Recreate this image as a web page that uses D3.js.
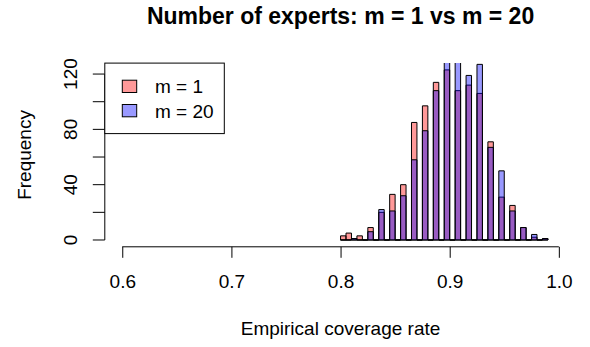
<!DOCTYPE html>
<html>
<head>
<meta charset="utf-8">
<script src="https://cdn.jsdelivr.net/npm/d3@7"></script>
<style>
  body { margin: 0; background: #fff; }
  svg { display: block; font-family: "Liberation Sans", Arial, sans-serif; }
</style>
</head>
<body>
<div id="content"></div>
<script>
// histogram breaks (bin i is (breaks[i], breaks[i+1]])
var breaks = [0.800, 0.805, 0.810, 0.815, 0.820, 0.825, 0.830, 0.835, 0.840, 0.845,
              0.850, 0.855, 0.860, 0.865, 0.870, 0.875, 0.880, 0.885, 0.890, 0.895,
              0.900, 0.905, 0.910, 0.915, 0.920, 0.925, 0.930, 0.935, 0.940, 0.945,
              0.950, 0.955, 0.960, 0.965, 0.970, 0.975, 0.980, 0.985, 0.990];

var countsM1 = [3, 5, 1, 3, 0, 9, 0, 20, 0, 33, 0, 40, 0, 85, 0, 97, 0, 114, 0, 123,
                0, 108, 0, 112, 0, 106, 0, 71, 0, 31, 0, 25, 0, 9, 0, 2, 0, 1];
var countsM20 = [0, 0, 1, 0, 0, 6, 0, 22, 0, 21, 0, 32, 0, 58, 0, 79, 0, 108, 0, 135,
                 0, 140, 0, 119, 0, 127, 0, 67, 0, 50, 0, 21, 0, 9, 0, 4, 0, 1];

var xTicks = [0.6, 0.7, 0.8, 0.9, 1.0];
var yTicks = [0, 20, 40, 60, 80, 100, 120];
var yLabels = [0, 40, 80, 120];
var legendLabels = ["m = 1", "m = 20"];

var width = 590, height = 347,
    plot = { left: 104.8, right: 576.3, top: 63.1, bottom: 246.8 },
    fill1 = "rgba(255,0,0,0.4)",
    fill20 = "rgba(0,0,255,0.4)";

var svg = d3.select("#content").append("svg")
    .attr("width", width)
    .attr("height", height);

// R style: xlim c(0.6,1), ylim c(0,max) both padded by 4%
var x = d3.scaleLinear().domain([0.584, 1.016]).range([plot.left, plot.right]);
var y = d3.scaleLinear().domain([-4.92, 127.92]).range([plot.bottom, plot.top]);

svg.append("clipPath").attr("id", "plotclip")
   .append("rect")
   .attr("x", plot.left).attr("y", plot.top)
   .attr("width", plot.right - plot.left)
   .attr("height", plot.bottom - plot.top);

function _drawHist(counts, fill) {
  var bins = counts.map(function (c, i) {
    return { x0: breaks[i], x1: breaks[i + 1], n: c };
  });

  svg.append("g")
     .attr("clip-path", "url(#plotclip)")
     .selectAll("path").data(bins).enter()
     .append("path")
     .attr("d", function (d) {
       var x0 = x(d.x0), x1 = x(d.x1), y0 = y(0), y1 = y(d.n);
       return "M" + x0 + "," + y0 + "H" + x1 + "V" + y1 + "H" + x0 + "Z";
     })
     .attr("fill", fill)
     .attr("stroke", "#000")
     .attr("stroke-width", 1);
}

_drawHist(countsM1, fill1);
_drawHist(countsM20, fill20);

// x axis
var xAxis = svg.append("g")
    .attr("transform", "translate(0," + plot.bottom + ")")
    .call(d3.axisBottom(x).tickValues(xTicks).tickSize(11).tickPadding(17)
          .tickFormat(d3.format(".1f")));
xAxis.select(".domain")
     .attr("d", "M" + x(xTicks[0]) + ",0H" + x(xTicks[xTicks.length - 1]));
xAxis.selectAll("text").attr("font-size", 19).attr("font-family", null).attr("fill", "#000");
xAxis.selectAll("line, path").attr("stroke", "#000");

// y axis
var yAxis = svg.append("g")
    .attr("transform", "translate(" + plot.left + ",0)")
    .call(d3.axisLeft(y).tickValues(yTicks).tickSize(12)
          .tickFormat(function (d) { return yLabels.indexOf(d) >= 0 ? d : ""; }));
yAxis.select(".domain")
     .attr("d", "M0," + y(yTicks[0]) + "V" + y(yTicks[yTicks.length - 1]));
yAxis.selectAll("line, path").attr("stroke", "#000");
yAxis.selectAll("text")
     .attr("font-size", 19).attr("font-family", null).attr("fill", "#000")
     .attr("x", null).attr("dy", null)
     .attr("text-anchor", "middle")
     .attr("transform", function (d) { return "translate(-28," + y(d) + ") rotate(-90)"; });
yAxis.selectAll(".tick").attr("transform", null);
yAxis.selectAll(".tick line")
     .attr("y1", function (d) { return y(d); })
     .attr("y2", function (d) { return y(d); });

// titles
svg.append("text")
   .attr("x", (plot.left + plot.right) / 2)
   .attr("y", 24)
   .attr("text-anchor", "middle")
   .attr("font-size", 23)
   .attr("font-weight", "bold")
   .text("Number of experts: m = 1 vs m = 20");

svg.append("text")
   .attr("x", (plot.left + plot.right) / 2)
   .attr("y", 335)
   .attr("text-anchor", "middle")
   .attr("font-size", 19)
   .text("Empirical coverage rate");

svg.append("text")
   .attr("transform", "translate(31," + (plot.top + plot.bottom) / 2 + ") rotate(-90)")
   .attr("text-anchor", "middle")
   .attr("font-size", 19)
   .text("Frequency");

// legend
var legend = svg.append("g");
legend.append("rect")
      .attr("x", plot.left).attr("y", plot.top)
      .attr("width", 119.5).attr("height", 70.5)
      .attr("fill", "#fff").attr("stroke", "#000");

legend.selectAll("g.item").data(legendLabels).enter()
      .append("g").attr("class", "item")
      .each(function (d, i) {
        var g = d3.select(this), cy = 86.2 + i * 24.3;
        g.append("rect")
         .attr("x", 122.3).attr("y", cy - 6)
         .attr("width", 14.4).attr("height", 12.3)
         .attr("fill", i ? fill20 : fill1)
         .attr("stroke", "#000");
        g.append("text")
         .attr("x", 155).attr("y", cy + 7)
         .attr("font-size", 19)
         .text(d);
      });
</script>
</body>
</html>
